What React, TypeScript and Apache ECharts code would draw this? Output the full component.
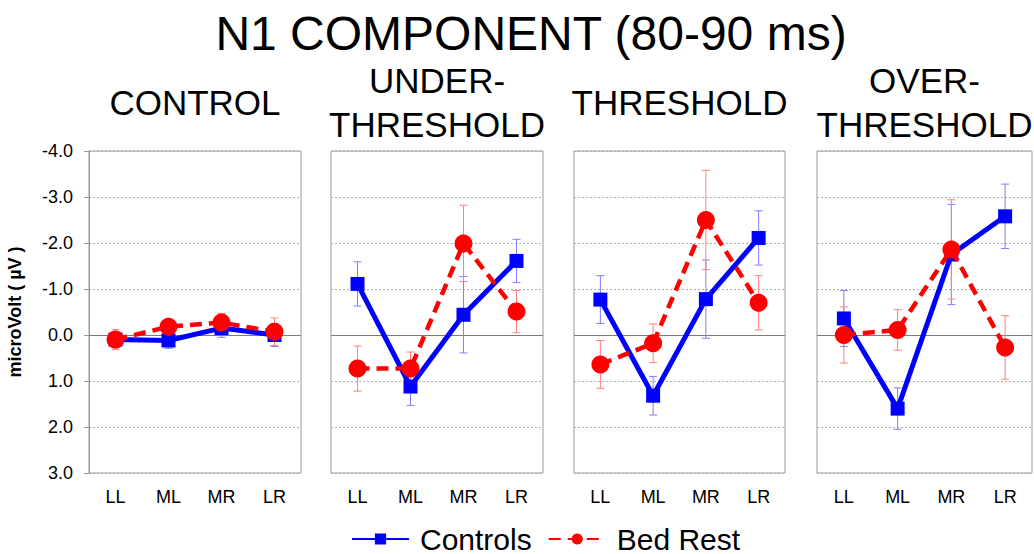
import React, { useEffect, useRef } from "react";
import * as echarts from "echarts";

const TITLE = "N1 COMPONENT (80-90 ms)";
const PANEL_TITLES = ["CONTROL", "UNDER-\nTHRESHOLD", "THRESHOLD", "OVER-\nTHRESHOLD"];
const CATEGORIES = ["LL", "ML", "MR", "LR"];
const Y_TICKS_MIN = -4;
const Y_TICKS_MAX = 3;

// mean amplitudes (microVolt), one array per panel
const controlsControl = [0.1, 0.12, -0.15, 0.0];
const controlsUnder = [-1.11, 1.12, -0.44, -1.61];
const controlsThreshold = [-0.77, 1.32, -0.78, -2.11];
const controlsOver = [-0.36, 1.6, -1.75, -2.58];

const bedRestControl = [0.1, -0.18, -0.27, -0.07];
const bedRestUnder = [0.73, 0.73, -1.99, -0.51];
const bedRestThreshold = [0.64, 0.18, -2.5, -0.7];
const bedRestOver = [0.0, -0.11, -1.86, 0.27];

// error bar half-lengths
const controlsErrControl = [0.15, 0.17, 0.2, 0.25];
const controlsErrUnder = [0.48, 0.41, 0.83, 0.47];
const controlsErrThreshold = [0.52, 0.42, 0.85, 0.59];
const controlsErrOver = [0.61, 0.45, 1.09, 0.7];

const bedRestErrControl = [0.22, 0.12, 0.2, 0.3];
const bedRestErrUnder = [0.49, 0.36, 0.83, 0.46];
const bedRestErrThreshold = [0.52, 0.42, 1.08, 0.59];
const bedRestErrOver = [0.61, 0.44, 1.08, 0.69];

const controls = [controlsControl, controlsUnder, controlsThreshold, controlsOver];
const bedRest = [bedRestControl, bedRestUnder, bedRestThreshold, bedRestOver];
const controlsErr = [controlsErrControl, controlsErrUnder, controlsErrThreshold, controlsErrOver];
const bedRestErr = [bedRestErrControl, bedRestErrUnder, bedRestErrThreshold, bedRestErrOver];

const FONT = "'Liberation Sans', Arial, sans-serif";
const BLUE = "#0000ff";
const RED = "#ff0000";
const GRIDS = [
  { left: 89, width: 212 },
  { left: 331, width: 212 },
  { left: 574, width: 211 },
  { left: 817, width: 215 },
];
const TOP = 151;
const HEIGHT = 322;

function errorSeries(i: number, vals: number[], errs: number[], color: string, name: string) {
  return {
    type: "custom",
    name,
    xAxisIndex: i,
    yAxisIndex: i,
    z: 3,
    silent: true,
    data: vals.map((v, k) => [k, v - errs[k], v + errs[k]]),
    encode: { x: 0, y: [1, 2] },
    renderItem: (params: any, api: any) => {
      const x = api.value(0);
      const lo = api.coord([x, api.value(1)]);
      const hi = api.coord([x, api.value(2)]);
      const w = 4;
      const style = { stroke: color, lineWidth: 1 };
      return {
        type: "group",
        children: [
          { type: "line", shape: { x1: lo[0], y1: lo[1], x2: hi[0], y2: hi[1] }, style },
          { type: "line", shape: { x1: lo[0] - w, y1: lo[1], x2: lo[0] + w, y2: lo[1] }, style },
          { type: "line", shape: { x1: hi[0] - w, y1: hi[1], x2: hi[0] + w, y2: hi[1] }, style },
        ],
      };
    },
  };
}

export default function App() {
  const ref = useRef<HTMLDivElement>(null);
  useEffect(() => {
    if (!ref.current) return;
    const chart = echarts.init(ref.current, undefined, { renderer: "svg" });
    const series: any[] = [];
    for (let i = 0; i < 4; i++) {
      series.push({
        type: "line",
        name: "Controls",
        xAxisIndex: i,
        yAxisIndex: i,
        data: controls[i],
        symbol: "rect",
        symbolSize: 14,
        z: 4,
        itemStyle: { color: BLUE },
        lineStyle: { color: BLUE, width: 5, type: "solid" },
        markLine: {
          silent: true,
          symbol: "none",
          label: { show: false },
          lineStyle: { color: "#7a7a7a", type: "solid", width: 1 },
          data: [{ yAxis: 0 }],
          z: 1,
        },
      });
      series.push({
        type: "line",
        name: "Bed Rest",
        xAxisIndex: i,
        yAxisIndex: i,
        data: bedRest[i],
        symbol: "circle",
        symbolSize: 18,
        z: 5,
        itemStyle: { color: RED },
        lineStyle: { color: RED, width: 4.5, type: [12, 7] },
      });
      series.push(errorSeries(i, controls[i], controlsErr[i], "#7f7fff", "ctrlErr" + i));
      series.push(errorSeries(i, bedRest[i], bedRestErr[i], "#ff7f7f", "brErr" + i));
    }

    const graphics: any[] = [
      {
        type: "text",
        x: 531,
        y: 33,
        style: {
          text: TITLE,
          fontSize: 48,
          fontFamily: FONT,
          fill: "#000",
          align: "center",
          verticalAlign: "middle",
          textAlign: "center",
          textVerticalAlign: "middle",
        },
      },
    ];
    PANEL_TITLES.forEach((t, i) => {
      const cx = GRIDS[i].left + GRIDS[i].width / 2;
      graphics.push({
        type: "text",
        x: cx,
        y: 102,
        style: {
          text: t,
          fontSize: 35,
          lineHeight: 44,
          fontFamily: FONT,
          fill: "#000",
          align: "center",
          verticalAlign: "middle",
          textAlign: "center",
          textVerticalAlign: "middle",
        },
      });
    });

    chart.setOption({
      animation: false,
      backgroundColor: "#fff",
      textStyle: { fontFamily: FONT },
      graphic: graphics,
      legend: {
        data: ["Controls", "Bed Rest"],
        left: 346,
        top: 519,
        itemWidth: 57,
        itemHeight: 14,
        itemGap: 16,
        textStyle: {
          fontSize: 30,
          lineHeight: 28,
          color: "#000",
          fontFamily: FONT,
          padding: [0, 0, 0, 6],
        },
      },
      grid: GRIDS.map((g) => ({
        left: g.left,
        width: g.width,
        top: TOP,
        height: HEIGHT,
        show: true,
        borderColor: "#999",
        borderWidth: 1,
        backgroundColor: "transparent",
      })),
      xAxis: GRIDS.map((g, i) => ({
        type: "category",
        gridIndex: i,
        data: CATEGORIES,
        boundaryGap: true,
        axisLine: { show: false },
        axisTick: { show: false },
        axisLabel: { fontSize: 18, color: "#000", margin: 15, fontFamily: FONT },
      })),
      yAxis: GRIDS.map((g, i) => ({
        type: "value",
        gridIndex: i,
        inverse: true,
        min: Y_TICKS_MIN,
        max: Y_TICKS_MAX,
        interval: 1,
        name: i === 0 ? "microVolt ( µV )" : "",
        nameLocation: "middle",
        nameRotate: 90,
        nameGap: 65,
        nameTextStyle: { fontSize: 18, fontWeight: "bold", color: "#000", fontFamily: FONT },
        axisLine: { show: i === 0, lineStyle: { color: "#999" } },
        axisTick: { show: i === 0, length: 5, lineStyle: { color: "#999" } },
        axisLabel: {
          show: i === 0,
          fontSize: 18,
          color: "#000",
          margin: 16,
          fontFamily: FONT,
          formatter: (v: number) => v.toFixed(1),
        },
        splitLine: { show: true, lineStyle: { color: "#b0b0b0", type: [2, 2], width: 1 } },
      })),
      series,
    });
    return () => chart.dispose();
  }, []);
  return (
    <div
      ref={ref}
      style={{ position: "absolute", left: 0, top: 0, width: 1034, height: 554 }}
    />
  );
}
